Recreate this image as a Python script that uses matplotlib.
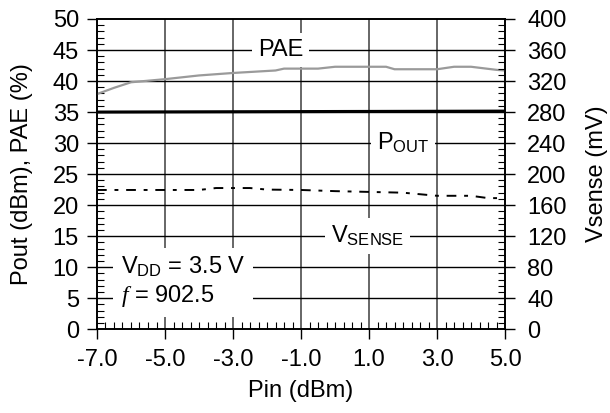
import matplotlib
matplotlib.use("Agg")
import matplotlib.pyplot as plt
from matplotlib.ticker import MultipleLocator, FormatStrFormatter

plt.rcParams["font.family"] = ["Liberation Sans", "DejaVu Sans"]
plt.rcParams["mathtext.fontset"] = "custom"
plt.rcParams["mathtext.rm"] = "Liberation Sans"
plt.rcParams["mathtext.it"] = "Liberation Serif:italic"

FS = 17

# PAE (%) vs Pin (dBm)
pae_pin = [-7.0, -6.5, -6.0, -5.0, -4.0, -3.0, -1.75, -1.5, -0.5, 0.0, 1.5, 1.75, 3.0, 3.5, 4.0, 4.75, 5.0]
pae = [37.9, 38.9, 39.8, 40.3, 40.9, 41.3, 41.7, 42.0, 42.0, 42.3, 42.3, 41.9, 41.9, 42.3, 42.3, 41.8, 41.7]

# Pout (dBm)
pout_pin = [-7.0, -3.0, 1.0, 5.0]
pout = [35.0, 35.05, 35.1, 35.15]

# Vsense (mV)
vs_pin = [-7.0, -5.0, -4.0, -3.5, -2.5, -2.0, -1.0, 0.0, 1.0, 2.0, 2.5, 3.0, 4.0, 4.5, 5.0]
vsense = [179.5, 179.5, 179.5, 182.0, 182.0, 180.0, 179.5, 178.0, 177.0, 176.0, 174.0, 172.0, 172.0, 169.0, 169.0]

x_ticks = [-7.0, -5.0, -3.0, -1.0, 1.0, 3.0, 5.0]

fig = plt.figure(figsize=(6.1, 4.13), dpi=100)
ax = fig.add_axes([0.159, 0.203, 0.669, 0.751])
ax2 = ax.twinx()

ax.set_xlim(-7, 5)
ax.set_ylim(0, 50)
ax2.set_ylim(0, 400)

ax.set_xticks(x_ticks)
ax.xaxis.set_minor_locator(MultipleLocator(0.25))
ax.xaxis.set_major_formatter(FormatStrFormatter("%.1f"))
ax.yaxis.set_major_locator(MultipleLocator(5))
ax.yaxis.set_minor_locator(MultipleLocator(1))
ax2.yaxis.set_major_locator(MultipleLocator(40))
ax2.yaxis.set_minor_locator(MultipleLocator(8))

# grid: vertical gray, horizontal black
for xv in x_ticks[1:-1]:
    ax.axvline(xv, color="#666666", lw=1.4, zorder=1)
for yv in range(5, 50, 5):
    ax.axhline(yv, color="black", lw=1.0, zorder=1)

ax.plot(pae_pin, pae, color="#9a9a9a", lw=1.6, zorder=3)
ax.plot(pout_pin, pout, color="black", lw=2.2, zorder=3)
ax2.plot(vs_pin, vsense, color="black", lw=1.4, linestyle=(0, (5, 4, 2, 4)), zorder=3)

box = dict(facecolor="white", edgecolor="none", pad=4)
ax.text(-1.6, 45, "PAE", fontsize=FS, ha="center", va="center", bbox=box, zorder=4)
ax.text(2.0, 30, r"P$_{\mathrm{OUT}}$", fontsize=FS, ha="center", va="center", bbox=box, zorder=4)
ax.text(0.95, 15, r"V$_{\mathrm{SENSE}}$", fontsize=FS, ha="center", va="center", bbox=box, zorder=4)
ax.text(-6.3, 7.6, "V$_{\\mathrm{DD}}$ = 3.5 V\n$f$ = 902.5", fontsize=FS, ha="left", va="center",
        linespacing=1.2, bbox=dict(facecolor="white", edgecolor="none", pad=6), zorder=4)

ax.tick_params(axis="both", which="major", direction="out", length=7, width=1, labelsize=FS, colors="black")
ax.tick_params(axis="y", which="major", pad=6)
ax.tick_params(axis="x", which="major", pad=7)
ax.tick_params(axis="both", which="minor", direction="in", length=5, width=0.8)
ax.tick_params(axis="x", which="both", top=False)
ax2.tick_params(axis="y", which="major", direction="out", length=7, width=1, labelsize=FS, pad=9)
ax2.tick_params(axis="y", which="minor", direction="in", length=5, width=0.8)

for a in (ax, ax2):
    for s in a.spines.values():
        s.set_linewidth(1.2)

ax.set_xlabel("Pin (dBm)", fontsize=FS, labelpad=7)
ax.set_ylabel("Pout (dBm), PAE (%)", fontsize=FS, labelpad=14)
ax2.set_ylabel("Vsense (mV)", fontsize=FS, labelpad=14)

fig.savefig("out.png", dpi=100)
